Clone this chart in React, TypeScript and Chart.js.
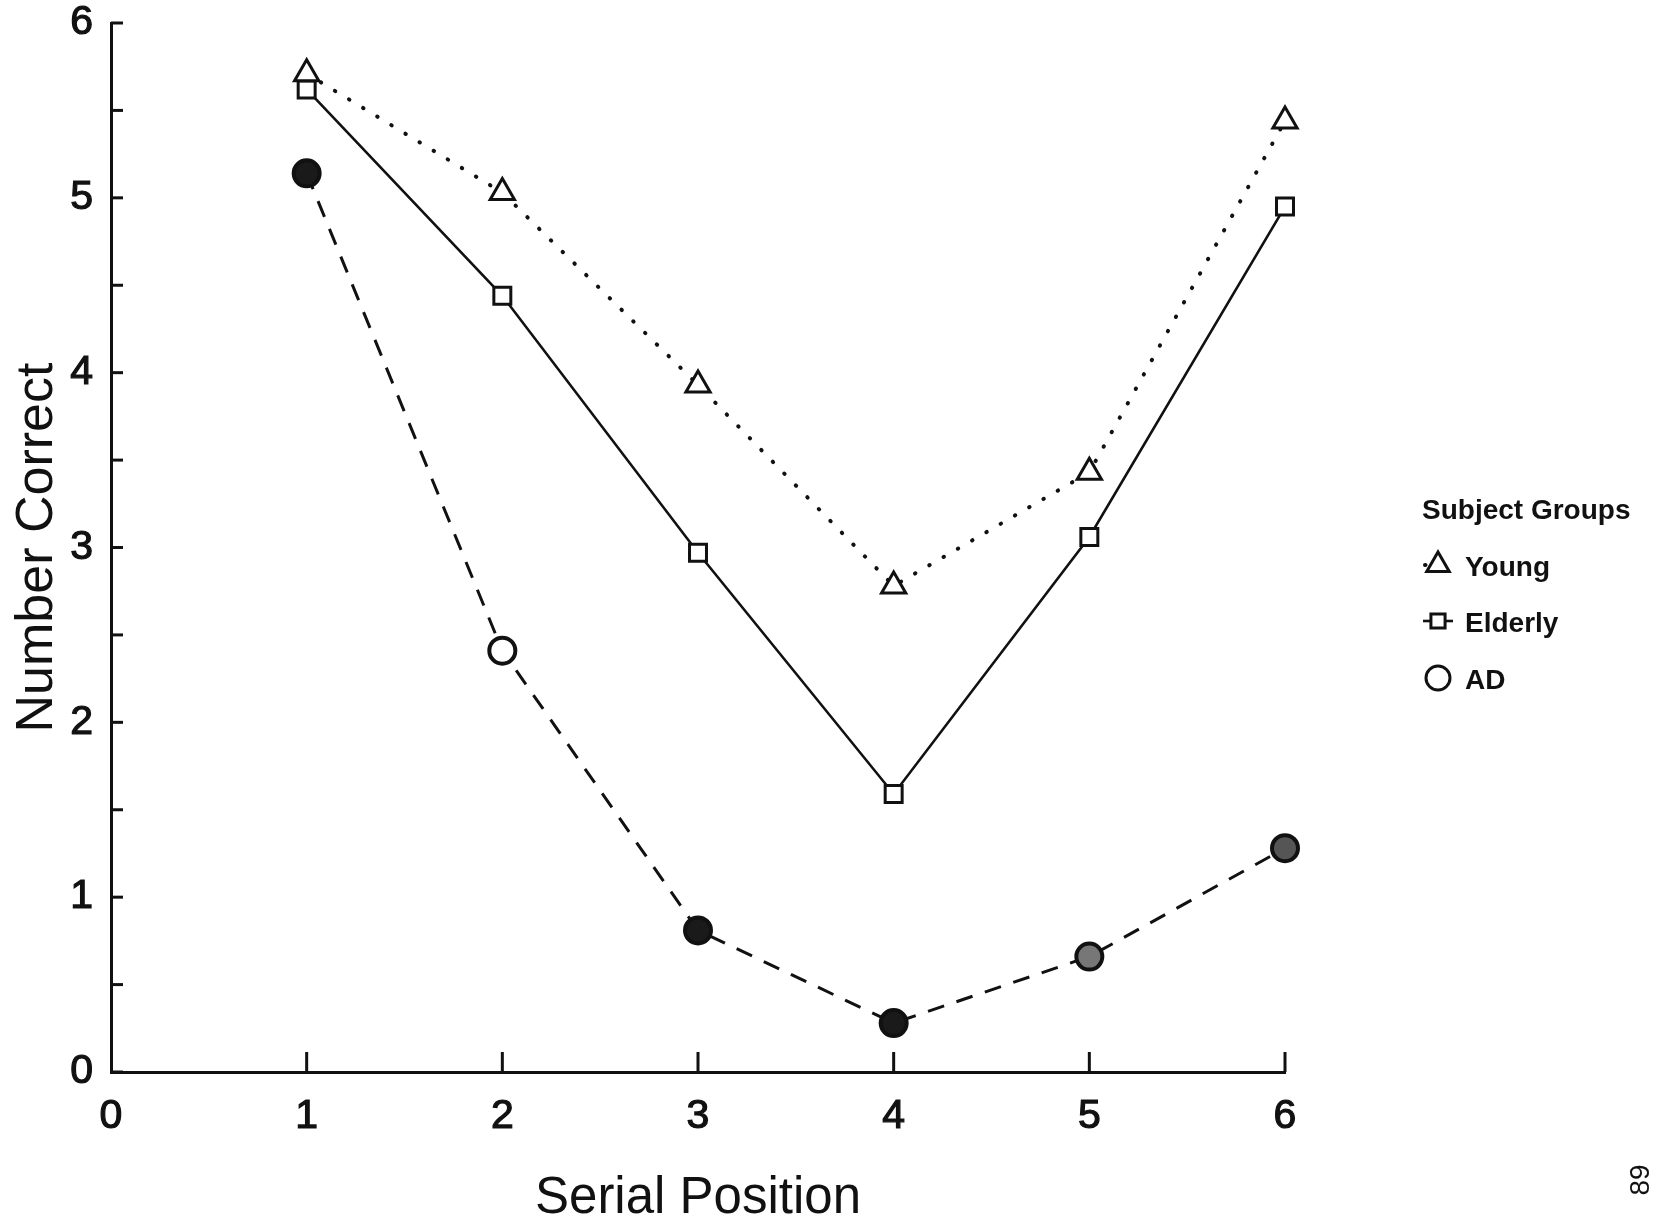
import React, { useEffect, useRef } from 'react';
import { Chart, registerables } from 'chart.js';

Chart.register(...registerables);

// Serial position recall: mean number correct per position
const positions = [1, 2, 3, 4, 5, 6];
const young = [5.71, 5.03, 3.93, 2.78, 3.43, 5.44];
const elderly = [5.62, 4.44, 2.97, 1.59, 3.06, 4.95];
const ad = [5.14, 2.41, 0.81, 0.28, 0.66, 1.28];
const groupNames = ['Young', 'Elderly', 'AD'];
const legendTitle = 'Subject Groups';
const xTitle = 'Serial Position';
const yTitle = 'Number Correct';
const pageNumber = '89';

const FONT = "'Liberation Sans', Arial, Helvetica, sans-serif";
const INK = '#111';

const toPoints = (vals: number[]) => positions.map((x, i) => ({ x, y: vals[i] }));

function drawMarker(ctx: CanvasRenderingContext2D, style: string, x: number, y: number, r: number) {
  ctx.beginPath();
  if (style === 'triangle') {
    let a = 0;
    ctx.moveTo(x + Math.sin(a) * r, y - Math.cos(a) * r);
    a += (2 * Math.PI) / 3;
    ctx.lineTo(x + Math.sin(a) * r, y - Math.cos(a) * r);
    a += (2 * Math.PI) / 3;
    ctx.lineTo(x + Math.sin(a) * r, y - Math.cos(a) * r);
    ctx.closePath();
  } else if (style === 'rect') {
    const s = Math.SQRT1_2 * r;
    ctx.rect(x - s, y - s, 2 * s, 2 * s);
  } else {
    ctx.arc(x, y, r, 0, Math.PI * 2);
  }
  ctx.fillStyle = '#fff';
  ctx.fill();
  ctx.stroke();
}

// Inward tick marks on both axes
const innerTicks = {
  id: 'innerTicks',
  afterDraw(chart: any) {
    const { ctx, chartArea, scales } = chart;
    ctx.save();
    ctx.strokeStyle = INK;
    ctx.lineWidth = 3;
    ctx.lineCap = 'butt';
    for (const t of scales.y.ticks) {
      const py = scales.y.getPixelForValue(t.value);
      ctx.beginPath();
      ctx.moveTo(chartArea.left, py);
      ctx.lineTo(chartArea.left + 12, py);
      ctx.stroke();
    }
    for (const t of scales.x.ticks) {
      if (t.value === 0) continue;
      const px = scales.x.getPixelForValue(t.value);
      ctx.beginPath();
      ctx.moveTo(px, chartArea.bottom);
      ctx.lineTo(px, chartArea.bottom - 20);
      ctx.stroke();
    }
    ctx.restore();
  },
};

// Legend block on the right plus the page number
const sideLegend = {
  id: 'sideLegend',
  afterDraw(chart: any) {
    const { ctx } = chart;
    ctx.save();
    ctx.fillStyle = INK;
    ctx.font = `bold 28px ${FONT}`;
    ctx.textBaseline = 'alphabetic';
    ctx.textAlign = 'left';
    ctx.fillText(legendTitle, 1422, 519);

    const baselines = [576, 632, 689];
    const sizes = [13, 10, 12];
    chart.data.datasets.forEach((ds: any, i: number) => {
      const cx = 1438;
      const cy = baselines[i] - 11;
      ctx.strokeStyle = INK;
      const dash: number[] = ds.borderDash || [];
      if (!(dash.length && dash[0] > 10)) {
        ctx.save();
        ctx.lineWidth = ds.borderWidth;
        ctx.lineCap = ds.borderCapStyle || 'butt';
        ctx.setLineDash(dash.length ? [dash[0], 9] : []);
        ctx.lineDashOffset = dash.length ? -2 : 0;
        ctx.beginPath();
        ctx.moveTo(cx - 15, cy);
        ctx.lineTo(cx + 15, cy);
        ctx.stroke();
        ctx.restore();
      }
      ctx.lineWidth = 3;
      ctx.setLineDash([]);
      drawMarker(ctx, ds.pointStyle, cx, cy, sizes[i]);
      ctx.fillStyle = INK;
      ctx.fillText(ds.label, 1465, baselines[i]);
    });

    ctx.translate(1641, 1180);
    ctx.rotate(-Math.PI / 2);
    ctx.font = `28px ${FONT}`;
    ctx.textAlign = 'center';
    ctx.textBaseline = 'middle';
    ctx.fillText(pageNumber, 0, 0);
    ctx.restore();
  },
};

export default function App() {
  const ref = useRef<HTMLCanvasElement | null>(null);

  useEffect(() => {
    if (!ref.current) return;
    const chart = new Chart(ref.current, {
      type: 'line',
      data: {
        datasets: [
          {
            label: groupNames[0],
            data: toPoints(young),
            borderColor: INK,
            borderWidth: 4,
            borderDash: [0.5, 16],
            borderCapStyle: 'round',
            pointStyle: 'triangle',
            pointRadius: 14,
            pointBorderWidth: 3,
            pointBorderColor: INK,
            pointBackgroundColor: '#fff',
            tension: 0,
            clip: false,
          },
          {
            label: groupNames[1],
            data: toPoints(elderly),
            borderColor: INK,
            borderWidth: 2.6,
            pointStyle: 'rect',
            pointRadius: 12,
            pointBorderWidth: 3,
            pointBorderColor: INK,
            pointBackgroundColor: '#fff',
            tension: 0,
            clip: false,
          },
          {
            label: groupNames[2],
            data: toPoints(ad),
            borderColor: INK,
            borderWidth: 3,
            borderDash: [17, 13],
            pointStyle: 'circle',
            pointRadius: 13,
            pointBorderWidth: 4,
            pointBorderColor: INK,
            pointBackgroundColor: ['#1a1a1a', '#fff', '#1a1a1a', '#1a1a1a', '#777', '#555'],
            tension: 0,
            clip: false,
          },
        ] as any,
      },
      options: {
        animation: false,
        responsive: false,
        maintainAspectRatio: false,
        layout: { padding: { top: 23, right: 370, bottom: 0, left: 0 } },
        plugins: {
          legend: { display: false },
          tooltip: { enabled: false },
        },
        scales: {
          x: {
            type: 'linear',
            min: 0,
            max: 6,
            afterFit: (s: any) => {
              s.height = 154;
              s.paddingLeft = 0;
              s.paddingRight = 0;
            },
            grid: { display: false, drawTicks: false },
            border: { display: true, color: INK, width: 3 },
            ticks: {
              stepSize: 1,
              autoSkip: false,
              maxRotation: 0,
              padding: 24,
              color: INK,
              textStrokeColor: INK,
              textStrokeWidth: 1.2,
              font: { family: FONT, size: 41, lineHeight: 1 },
            },
            title: {
              display: true,
              text: xTitle,
              color: INK,
              font: { family: FONT, size: 51, lineHeight: 1 },
              padding: { top: 0, bottom: 2 },
            },
          },
          y: {
            type: 'linear',
            min: 0,
            max: 6,
            afterFit: (s: any) => {
              s.width = 111;
              s.paddingTop = 0;
              s.paddingBottom = 0;
            },
            grid: { display: false, drawTicks: false },
            border: { display: true, color: INK, width: 3 },
            ticks: {
              stepSize: 0.5,
              autoSkip: false,
              padding: 18,
              color: INK,
              textStrokeColor: INK,
              textStrokeWidth: 1.2,
              font: { family: FONT, size: 41, lineHeight: 1 },
              callback: (v: any) => (Number.isInteger(v) ? String(v) : ''),
            },
            title: {
              display: true,
              text: yTitle,
              color: INK,
              font: { family: FONT, size: 52, lineHeight: 1 },
              padding: { top: 12, bottom: 0 },
            },
          },
        },
      } as any,
      plugins: [innerTicks, sideLegend],
    });
    return () => chart.destroy();
  }, []);

  return (
    <div style={{ position: 'absolute', left: 0, top: 0, width: 1655, height: 1226, background: '#fff' }}>
      <canvas ref={ref} width={1655} height={1226} style={{ display: 'block' }} />
    </div>
  );
}
